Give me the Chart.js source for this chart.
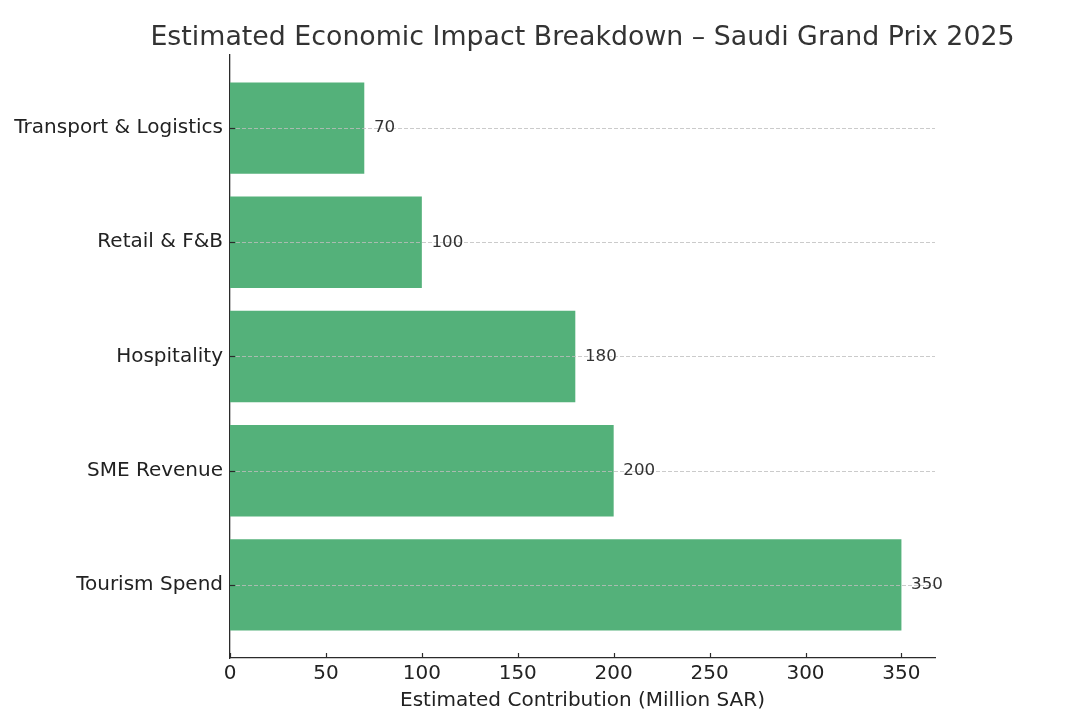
<!DOCTYPE html>
<html>
<head>
<meta charset="utf-8">
<script src="https://cdn.jsdelivr.net/npm/chart.js@4"></script>
<style>
  html, body { margin: 0; padding: 0; background: #ffffff; }
  #wrap { width: 1083px; height: 725px; position: relative; }
</style>
</head>
<body>
<div id="wrap"><canvas id="c"></canvas></div>
<script>
// Data (bottom to top, as plotted)
const categories = ['Tourism Spend', 'SME Revenue', 'Hospitality', 'Retail & F&B', 'Transport & Logistics'];
const values = [350, 200, 180, 100, 70];
const xTicks = [0, 50, 100, 150, 200, 250, 300, 350];
const titleText = 'Estimated Economic Impact Breakdown \u2013 Saudi Grand Prix 2025';
const xTitleText = 'Estimated Contribution (Million SAR)';

const FONT = "'DejaVu Sans', sans-serif";
const BAR_COLOR = '#54b17a';
const AXIS_COLOR = '#2b2b2b';

const overlayPlugin = {
  id: 'overlay',
  afterDatasetsDraw(chart) {
    const ctx = chart.ctx;
    const area = chart.chartArea;
    const xs = chart.scales.x;
    const ys = chart.scales.y;
    ctx.save();
    // dashed horizontal grid at category centres (over bars)
    ctx.strokeStyle = 'rgba(190,190,190,0.8)';
    ctx.lineWidth = 1;
    ctx.setLineDash([4, 2]);
    categories.forEach((c, i) => {
      const y = Math.round(ys.getPixelForValue(i)) + 0.5;
      ctx.beginPath();
      ctx.moveTo(area.left, y);
      ctx.lineTo(area.right, y);
      ctx.stroke();
    });
    ctx.setLineDash([]);
    // inward tick marks
    ctx.strokeStyle = AXIS_COLOR;
    ctx.lineWidth = 1.2;
    categories.forEach((c, i) => {
      const y = Math.round(ys.getPixelForValue(i)) + 0.5;
      ctx.beginPath();
      ctx.moveTo(area.left, y);
      ctx.lineTo(area.left + 5, y);
      ctx.stroke();
    });
    xTicks.forEach(v => {
      const x = Math.round(xs.getPixelForValue(v)) + 0.5;
      ctx.beginPath();
      ctx.moveTo(x, area.bottom);
      ctx.lineTo(x, area.bottom - 5);
      ctx.stroke();
    });
    // value labels
    ctx.fillStyle = '#333333';
    ctx.font = "16.7px " + FONT;
    ctx.textAlign = 'left';
    ctx.textBaseline = 'middle';
    values.forEach((v, i) => {
      const x = xs.getPixelForValue(v + 5);
      const y = ys.getPixelForValue(i);
      ctx.fillText(String(v), x, y);
    });
    // title centred over the plot area
    ctx.fillStyle = '#333333';
    ctx.font = "26.8px " + FONT;
    ctx.textAlign = 'center';
    ctx.textBaseline = 'alphabetic';
    ctx.fillText(titleText, (area.left + area.right) / 2, 45);
    ctx.restore();
  }
};

new Chart(document.getElementById('c'), {
  type: 'bar',
  data: {
    datasets: [{
      data: values.map((v, i) => ({ x: v, y: i })),
      backgroundColor: BAR_COLOR,
      borderWidth: 0,
      categoryPercentage: 1.0,
      barPercentage: 0.8
    }]
  },
  options: {
    indexAxis: 'y',
    responsive: true,
    maintainAspectRatio: false,
    animation: false,
    devicePixelRatio: 1,
    layout: { padding: { left: 0, right: 148, top: 55, bottom: 0 } },
    plugins: {
      legend: { display: false },
      tooltip: { enabled: false },
      title: { display: false }
    },
    scales: {
      x: {
        type: 'linear',
        min: 0,
        max: 367.5,
        afterBuildTicks: (scale) => { scale.ticks = xTicks.map(v => ({ value: v })); },
        afterFit: (scale) => { scale.height = 67; },
        grid: { display: false, drawTicks: false },
        border: { display: true, color: AXIS_COLOR, width: 1.3 },
        ticks: {
          color: '#222222',
          font: { family: FONT, size: 20 },
          padding: 4,
          maxRotation: 0,
          autoSkip: false
        },
        title: {
          display: true,
          text: xTitleText,
          color: '#222222',
          font: { family: FONT, size: 20 },
          padding: { top: 0, bottom: 12 }
        }
      },
      y: {
        type: 'linear',
        offset: false,
        min: -0.64,
        max: 4.64,
        afterBuildTicks: (scale) => { scale.ticks = categories.map((c, i) => ({ value: i })); },
        afterFit: (scale) => { scale.width = 230; },
        grid: { display: false, drawTicks: false, offset: false },
        border: { display: true, color: AXIS_COLOR, width: 1.3 },
        ticks: {
          color: '#222222',
          font: { family: FONT, size: 20 },
          padding: 7,
          autoSkip: false,
          callback: (v) => categories[v] !== undefined ? categories[v] : ''
        }
      }
    }
  },
  plugins: [overlayPlugin]
});
</script>
</body>
</html>
